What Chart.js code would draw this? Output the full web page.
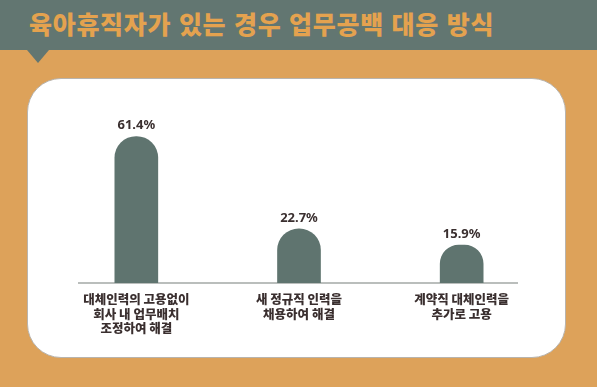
<!DOCTYPE html>
<html lang="ko">
<head>
<meta charset="utf-8">
<script src="https://cdn.jsdelivr.net/npm/chart.js@4"></script>
<style>
  html, body { margin: 0; padding: 0; background: #ffffff; }
  #fondo { position: absolute; left: 0; top: 0; width: 597px; height: 387px; background: #dda25a; overflow: hidden; }
  #cabecera { position: absolute; left: 0; top: 0; width: 597px; height: 50px; background: #627671; }
  #pico { position: absolute; left: 27px; top: 50px; width: 0; height: 0;
          border-left: 11px solid transparent; border-right: 11px solid transparent; border-top: 13px solid #627671; }
  #titulo { position: absolute; left: 29px; top: 10px; font-family: "Noto Sans CJK KR"; font-weight: 900;
            font-size: 25px; line-height: 27px; letter-spacing: 0.7px; color: #e4a24f; white-space: nowrap; }
  #tarjeta { position: absolute; left: 27px; top: 78px; width: 537px; height: 278px; background: #ffffff;
             border: 1.5px solid #b8b4ae; border-radius: 34px; }
  canvas { position: absolute; left: 0; top: 0; }
</style>
</head>
<body>
<div id="fondo">
  <div id="cabecera"></div>
  <div id="pico"></div>
  <div id="titulo">육아휴직자가 있는 경우 업무공백 대응 방식</div>
  <div id="tarjeta"></div>
</div>
<canvas id="grafica" width="600" height="389"></canvas>
<script>
const categorias = [
  ['대체인력의 고용없이', '회사 내 업무배치', '조정하여 해결'],
  ['새 정규직 인력을', '채용하여 해결'],
  ['계약직 대체인력을', '추가로 고용']
];
const porcentajes = [61.4, 22.7, 15.9];

const colorBarra = '#5f746f';
const colorTexto = '#3a2f2f';

// linea base gris bajo las barras
const lineaBase = {
  id: 'lineaBase',
  beforeDatasetsDraw(chart) {
    const ctx = chart.ctx;
    const y = chart.scales.y.getPixelForValue(0);
    ctx.save();
    ctx.strokeStyle = '#a3a8a6';
    ctx.lineWidth = 1.5;
    ctx.beginPath();
    ctx.moveTo(78, y);
    ctx.lineTo(518, y);
    ctx.stroke();
    ctx.restore();
  }
};

// etiquetas de porcentaje sobre cada barra
const etiquetas = {
  id: 'etiquetas',
  afterDatasetsDraw(chart) {
    const ctx = chart.ctx;
    const meta = chart.getDatasetMeta(0);
    ctx.save();
    ctx.fillStyle = colorTexto;
    ctx.font = 'bold 13px "Noto Sans"';
    ctx.textAlign = 'center';
    ctx.textBaseline = 'middle';
    meta.data.forEach((bar, i) => {
      ctx.fillText(porcentajes[i].toFixed(1) + '%', bar.x, bar.y - 11);
    });
    ctx.restore();
  }
};

new Chart(document.getElementById('grafica'), {
  type: 'bar',
  data: {
    labels: categorias,
    datasets: [{
      data: porcentajes,
      backgroundColor: colorBarra,
      barThickness: 43,
      borderRadius: { topLeft: 22, topRight: 22, bottomLeft: 0, bottomRight: 0 },
      borderSkipped: 'bottom'
    }]
  },
  options: {
    responsive: false,
    animation: false,
    layout: { padding: { left: 55, right: 57, top: 116, bottom: 0 } },
    plugins: {
      legend: { display: false },
      tooltip: { enabled: false }
    },
    scales: {
      y: { display: false, min: 0, max: 70 },
      x: {
        grid: { display: false, drawTicks: false, tickLength: 0 },
        border: { display: false },
        ticks: {
          color: colorTexto,
          padding: 9,
          maxRotation: 0,
          autoSkip: false,
          font: { family: '"Noto Sans CJK KR"', weight: 900, size: 12.5, lineHeight: 1.17 }
        },
        afterFit(scale) { scale.height = 106; }
      }
    }
  },
  plugins: [lineaBase, etiquetas]
});
</script>
</body>
</html>
